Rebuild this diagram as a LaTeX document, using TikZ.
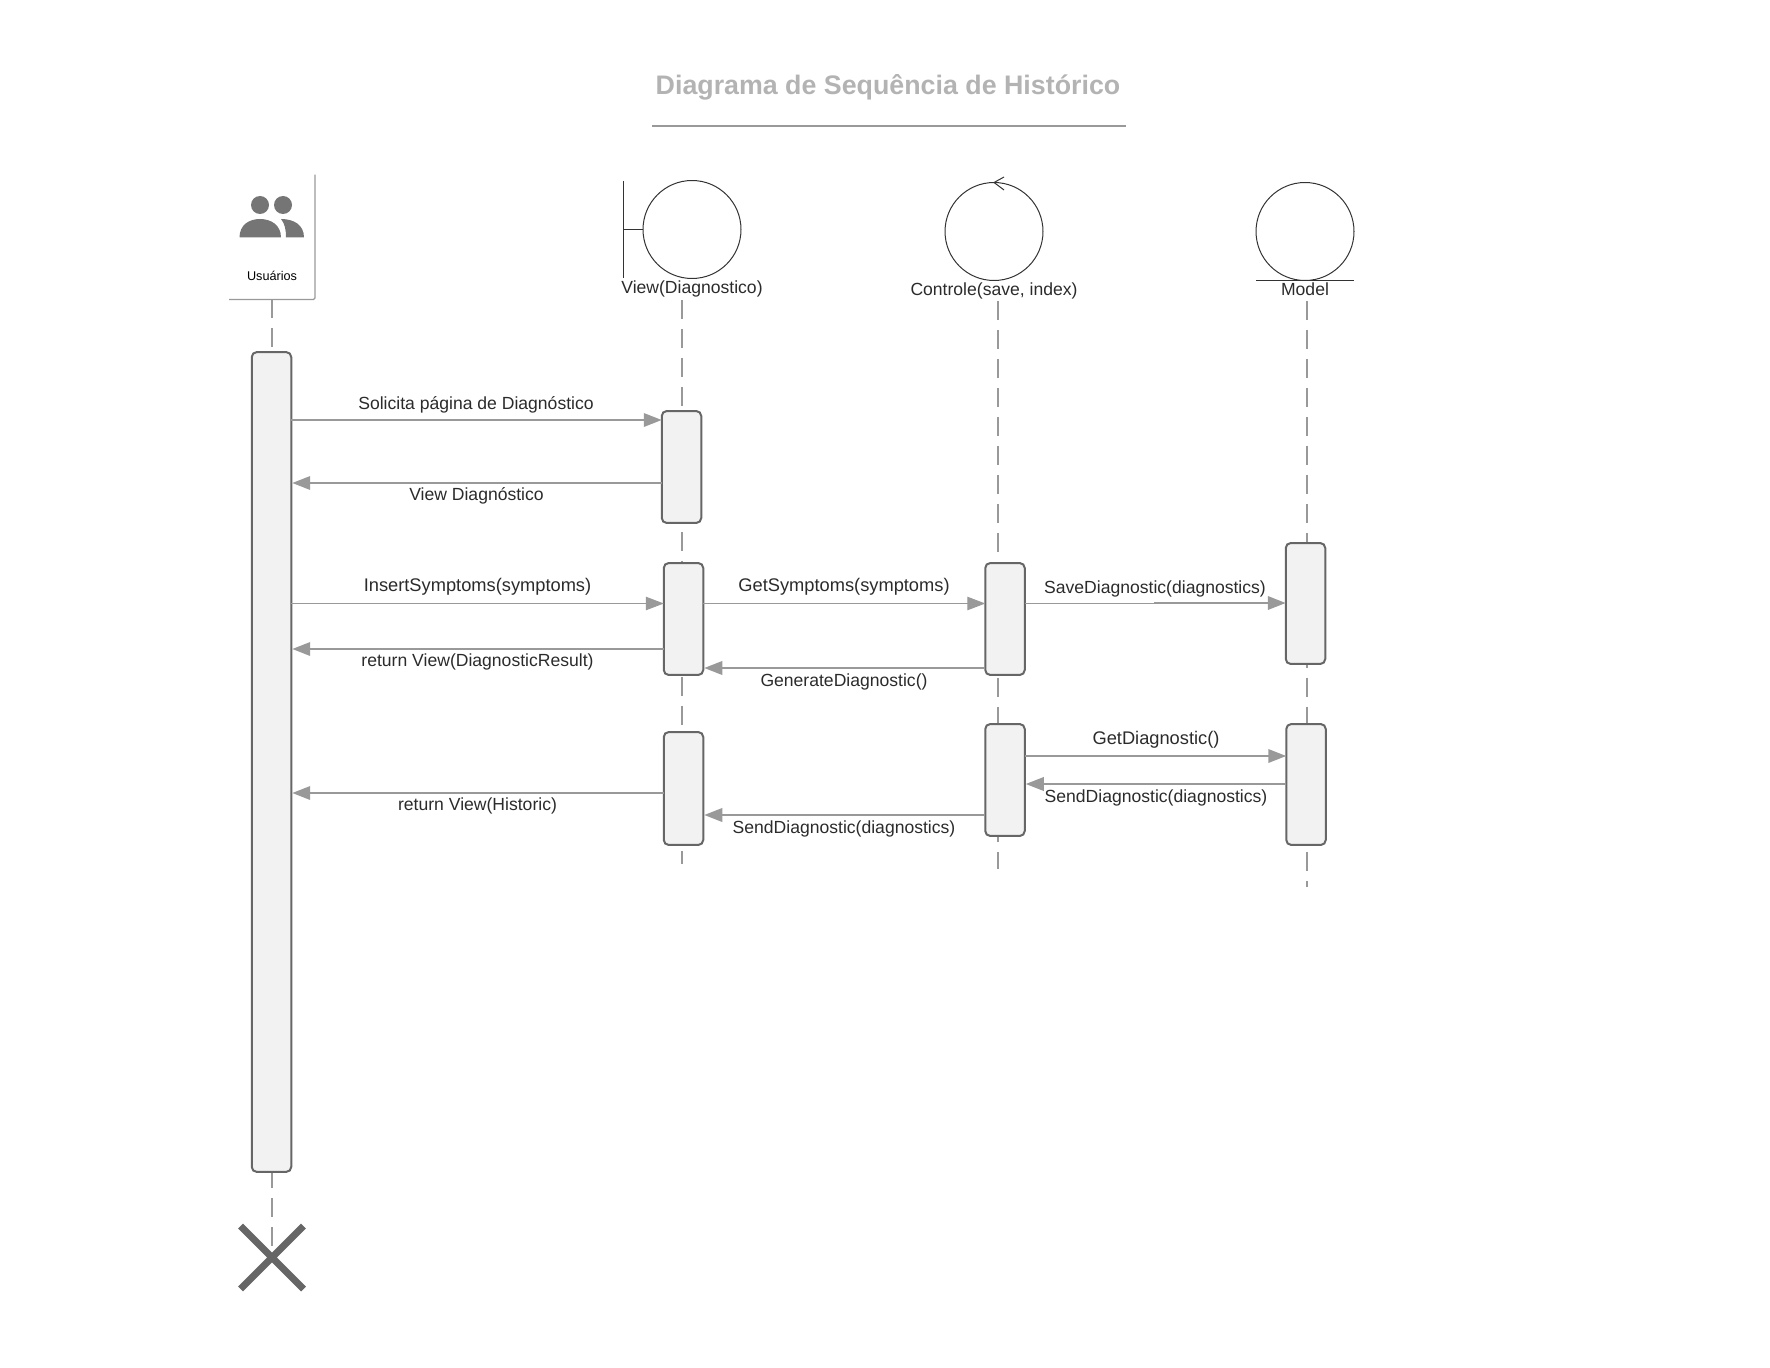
\documentclass[tikz,border=0pt]{standalone}
\usepackage{fontspec}
\setmainfont{Liberation Sans}
\usetikzlibrary{arrows.meta,shapes.misc}
\definecolor{linegray}{HTML}{999999}
\definecolor{boxedge}{HTML}{666666}
\definecolor{boxfill}{HTML}{F2F2F2}
\definecolor{icongray}{HTML}{757575}
\definecolor{textgray}{HTML}{2B2B2B}
\definecolor{titlegray}{HTML}{B3B3B3}
\tikzset{
  lifeline/.style={draw=linegray,line width=0.04cm,dash pattern=on 0.38cm off 0.2cm},
  actbox/.style={draw=boxedge,fill=boxfill,line width=0.04cm,rounded corners=0.1cm,minimum width=0.79cm,inner sep=0,outer sep=0},
  msg/.style={draw=linegray,line width=0.04cm,-{Triangle[length=0.36cm,width=0.27cm,fill=linegray]}},
  backmsg/.style={msg,shorten >=0.02cm},
  thinmsg/.style={msg,line width=0.02cm},
  msglabel/.style={font=\fontsize{10pt}{12pt}\selectfont,text=textgray,inner sep=0},
  biglabel/.style={msglabel,font=\fontsize{10.4pt}{12pt}\selectfont},
  symbol/.style={draw=black!80,line width=0.02cm},
}
\begin{document}
\begin{tikzpicture}[x=0.02cm,y=-0.02cm]
\useasboundingbox (0,0) rectangle (1770,1368);
\node[font=\bfseries\fontsize{15.25pt}{18pt}\selectfont,text=titlegray] (title) at (888,87) {Diagrama de Sequência de Histórico};
\coordinate (ruleleft) at (652,126);
\coordinate (ruleright) at (1126,126);
\draw[draw=linegray,line width=0.04cm] (ruleleft) -- (ruleright);

\node[minimum width=1.72cm,minimum height=2.5cm,inner sep=0,outer sep=0] (usr) at (272,237) {};
\draw[draw=linegray,line width=0.024cm,rounded corners=0.03cm] (usr.north east) -- (usr.south east) -- (usr.south west);
\node[font=\fontsize{7.2pt}{8pt}\selectfont,text=black,inner sep=0] (usrlabel) at (272,276) {Usuários};
\fill[icongray] (260,205) circle (9);
\fill[icongray] (283,205) circle (9);
\fill[icongray] (239.5,237.5) .. controls (239.5,225) and (249,219) .. (260,219) .. controls (271,219) and (281,225) .. (281,237.5) -- cycle;
\fill[icongray] (281,219) .. controls (294,219) and (304,225) .. (304,237.5) -- (286,237.5) .. controls (286,230) and (285,224) .. (281,219) -- cycle;

\node[circle,symbol,minimum size=1.96cm,inner sep=0,outer sep=0] (viewsym) at (692,229.5) {};
\coordinate (viewbartop) at (623,181);
\coordinate (viewbarbot) at (623,278);
\draw[symbol] (viewbartop) -- (viewbarbot);
\draw[symbol] (viewsym.west) -- (viewbartop |- viewsym.west);
\node[circle,symbol,minimum size=1.96cm,inner sep=0,outer sep=0] (ctrlsym) at (994,231.5) {};
\draw[symbol] (1004,177) -- (ctrlsym.north) -- (1004,190);
\node[circle,symbol,minimum size=1.96cm,inner sep=0,outer sep=0] (modelsym) at (1305,231.5) {};
\draw[symbol] (modelsym.west |- modelsym.south) -- (modelsym.east |- modelsym.south);

\coordinate (usrend) at (272,1257);
\coordinate (viewtop) at (682,300);
\coordinate (viewend) at (682,864);
\coordinate (ctrltop) at (998,301);
\coordinate (ctrlend) at (998,869);
\coordinate (modeltop) at (1307,301);
\coordinate (modelend) at (1307,887);
\draw[lifeline] (usr.south) -- (usrend);
\draw[lifeline] (viewtop) -- (viewend);
\draw[lifeline] (ctrltop) -- (ctrlend);
\draw[lifeline] (modeltop) -- (modelend);

\node[msglabel] (viewlabel) at (692,289) {View(Diagnostico)};
\node[msglabel] (ctrllabel) at (994,291) {Controle(save, index)};
\node[msglabel] (modellabel) at (1305,289.5) {Model};

\node[cross out,draw=boxedge,line width=0.14cm,minimum size=1.12cm,inner sep=0] (usrx) at (272,1257.5) {};

\node[actbox,minimum height=16.4cm] (usrbox) at (271.5,762) {};
\node[actbox,minimum height=2.24cm] (viewboxa) at (681.5,467) {};
\node[actbox,minimum height=2.24cm] (viewboxb) at (683.5,619) {};
\node[actbox,minimum height=2.26cm] (viewboxc) at (683.5,788.5) {};
\node[actbox,minimum height=2.24cm] (ctrlboxa) at (1005,619) {};
\node[actbox,minimum height=2.24cm] (ctrlboxb) at (1005,780) {};
\node[actbox,minimum height=2.42cm] (modelboxa) at (1305.5,603.5) {};
\node[actbox,minimum height=2.42cm] (modelboxb) at (1306,784.5) {};

\draw[msg] (usrbox.east |- 0,420) -- (viewboxa.west |- 0,420);
\draw[backmsg] (viewboxa.west |- 0,483) -- (usrbox.east |- 0,483);
\draw[thinmsg] (usrbox.east |- 0,603.5) -- (viewboxb.west |- 0,603.5);
\draw[backmsg] (viewboxb.west |- 0,649) -- (usrbox.east |- 0,649);
\draw[thinmsg] (viewboxb.east |- 0,603.5) -- (ctrlboxa.west |- 0,603.5);
\draw[backmsg] (ctrlboxa.west |- 0,668) -- (viewboxb.east |- 0,668);
\draw[thinmsg,-] (ctrlboxa.east |- 0,603.5) -- (1154,603.5);
\draw[msg] (1154,603) -- (modelboxa.west |- 0,603);
\draw[msg] (ctrlboxb.east |- 0,756) -- (modelboxb.west |- 0,756);
\draw[backmsg] (modelboxb.west |- 0,784) -- (ctrlboxb.east |- 0,784);
\draw[backmsg] (ctrlboxb.west |- 0,815) -- (viewboxc.east |- 0,815);
\draw[backmsg] (viewboxc.west |- 0,793) -- (usrbox.east |- 0,793);

\node[msglabel] (solicita) at (476,405) {Solicita página de Diagnóstico};
\node[msglabel] (viewdiag) at (476.5,496) {View Diagnóstico};
\node[biglabel] (insert) at (477.5,587) {InsertSymptoms(symptoms)};
\node[msglabel] (retresult) at (477.5,662) {return View(DiagnosticResult)};
\node[biglabel] (getsym) at (844,587) {GetSymptoms(symptoms)};
\node[msglabel] (generate) at (844,682) {GenerateDiagnostic()};
\node[msglabel] (save) at (1155,588.5) {SaveDiagnostic(diagnostics)};
\node[biglabel] (getdiag) at (1156,740) {GetDiagnostic()};
\node[msglabel] (senda) at (1156,798) {SendDiagnostic(diagnostics)};
\node[msglabel] (sendb) at (844,829) {SendDiagnostic(diagnostics)};
\node[msglabel] (rethist) at (477.5,806) {return View(Historic)};
\end{tikzpicture}
\end{document}
